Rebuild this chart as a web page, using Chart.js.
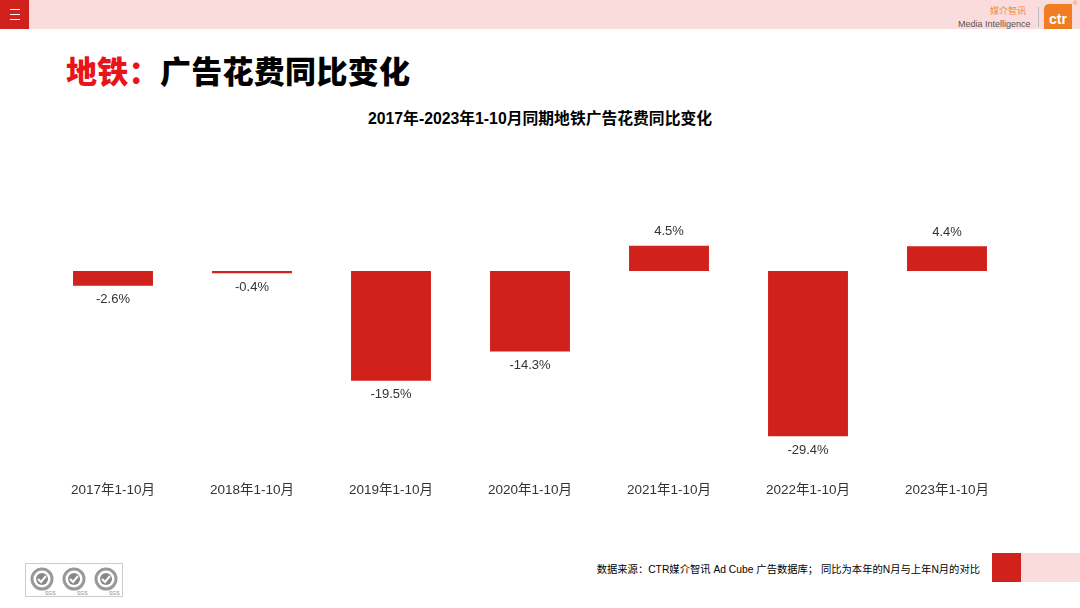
<!DOCTYPE html>
<html><head><meta charset="utf-8">
<script src="https://cdn.jsdelivr.net/npm/chart.js@4.4.1/dist/chart.umd.min.js"></script>
<style>
html,body{margin:0;padding:0;background:#fff;}
body{width:1080px;height:608px;position:relative;overflow:hidden;font-family:"Liberation Sans",Arial,"Noto Sans CJK SC",sans-serif;}
#hdr{position:absolute;left:0;top:0;width:1080px;height:29px;background:#fadcdc;}
#menu{position:absolute;left:0;top:0;width:29px;height:29px;background:#d0211c;}
#menu div{position:absolute;left:10px;width:10px;height:1px;background:#fff;}
#bigtitle{position:absolute;left:66px;top:49px;font-family:"Noto Sans CJK SC",sans-serif;font-weight:900;font-size:31px;line-height:42px;color:#000;letter-spacing:0.3px;}
#bigtitle span{color:#e8141b;}
#ctitle{position:absolute;left:0;width:1080px;top:109px;text-align:center;font-family:"Liberation Sans","Noto Sans CJK SC",sans-serif;font-weight:bold;font-size:15.8px;line-height:20px;color:#000;}
#src{position:absolute;right:100px;top:563px;font-size:10.3px;line-height:14px;color:#000;font-family:"Liberation Sans","Noto Sans CJK SC",sans-serif;}
#redsq{position:absolute;left:992px;top:553px;width:29px;height:29px;background:#d0211c;}
#pinksq{position:absolute;left:1021px;top:553px;width:59px;height:29px;background:#fadcdc;}
#cv{position:absolute;left:0;top:0;}
</style></head>
<body>
<div id="hdr"></div>
<div id="menu"><div style="top:9px"></div><div style="top:14px"></div><div style="top:19px"></div></div>
<div style="position:absolute;left:990px;top:6px;font-size:9px;line-height:10px;color:#f08a3c;font-family:'Noto Sans CJK SC',sans-serif;">媒介智讯</div>
<div style="position:absolute;left:958px;top:19px;font-size:9px;line-height:10px;color:#555;">Media Intelligence</div>
<div style="position:absolute;left:1038px;top:7px;width:1px;height:20px;background:#bbb;"></div>
<div style="position:absolute;left:1044px;top:4px;width:28px;height:25px;background:#f07d23;border-radius:5px 0 0 0;color:#fff;font-weight:bold;font-size:14px;line-height:30px;text-align:center;">ctr</div>
<div style="position:absolute;left:1073px;top:0px;font-size:6px;color:#f07d23;">®</div>
<div id="bigtitle"><span>地铁：</span>广告花费同比变化</div>
<div id="ctitle">2017年-2023年1-10月同期地铁广告花费同比变化</div>
<svg style="position:absolute;left:25px;top:563px" width="99" height="35">
<rect x="0.5" y="0.5" width="97" height="33" fill="#fff" stroke="#ccc"/>
<g fill="none" stroke="#999">
<circle cx="17" cy="16" r="10" stroke-width="3"/><circle cx="49" cy="16" r="10" stroke-width="3"/><circle cx="81" cy="16" r="10" stroke-width="3"/>
</g>
<g fill="#888"><circle cx="17" cy="16" r="6"/><circle cx="49" cy="16" r="6"/><circle cx="81" cy="16" r="6"/></g>
<g fill="none" stroke="#fff" stroke-width="2"><path d="M13 16 l3 3 l5 -6"/><path d="M45 16 l3 3 l5 -6"/><path d="M77 16 l3 3 l5 -6"/></g>
<g font-size="5" fill="#888" font-family="Liberation Sans"><text x="20" y="32">SGS</text><text x="52" y="32">SGS</text><text x="84" y="32">SGS</text></g>
</svg>
<div id="src">数据来源：CTR媒介智讯 Ad Cube 广告数据库； 同比为本年的N月与上年N月的对比</div>
<div id="redsq"></div><div id="pinksq"></div>
<canvas id="cv" width="1080" height="608"></canvas>
<script>
const categories = ["2017年1-10月","2018年1-10月","2019年1-10月","2020年1-10月","2021年1-10月","2022年1-10月","2023年1-10月"];
const yoyValues = [-2.6, -0.4, -19.5, -14.3, 4.5, -29.4, 4.4];
const valueLabels = ["-2.6%","-0.4%","-19.5%","-14.3%","4.5%","-29.4%","4.4%"];

const barLabelPlugin = {
  id: 'barLabels',
  afterDatasetsDraw(chart) {
    const ctx = chart.ctx;
    const meta = chart.getDatasetMeta(0);
    ctx.save();
    ctx.font = '13px "Liberation Sans", Arial, sans-serif';
    ctx.fillStyle = '#333';
    ctx.textAlign = 'center';
    ctx.textBaseline = 'middle';
    meta.data.forEach((bar, i) => {
      const v = yoyValues[i];
      const yEnd = bar.y;
      const y = v < 0 ? yEnd + 14 : yEnd - 14;
      ctx.fillText(valueLabels[i], bar.x, y);
    });
    ctx.restore();
  }
};

new Chart(document.getElementById('cv'), {
  type: 'bar',
  data: {
    labels: categories,
    datasets: [{
      data: yoyValues,
      backgroundColor: '#d0211c',
      borderWidth: 0,
      categoryPercentage: 1,
      barPercentage: 0.575
    }]
  },
  options: {
    responsive: false,
    animation: false,
    devicePixelRatio: 1,
    layout: { padding: { left: 43.5, right: 63.5, top: 214.9, bottom: 96 } },
    plugins: { legend: { display: false }, tooltip: { enabled: false }, title: { display: false } },
    scales: {
      x: {
        grid: { display: false, drawTicks: false },
        border: { display: false },
        ticks: { color: '#333', font: { size: 13.5, family: '"Liberation Sans", Arial, "Noto Sans CJK SC", sans-serif' }, padding: 14, maxRotation: 0, autoSkip: false }
      },
      y: { display: false, min: -35, max: 10 }
    }
  },
  plugins: [barLabelPlugin]
});
</script>
</body></html>
